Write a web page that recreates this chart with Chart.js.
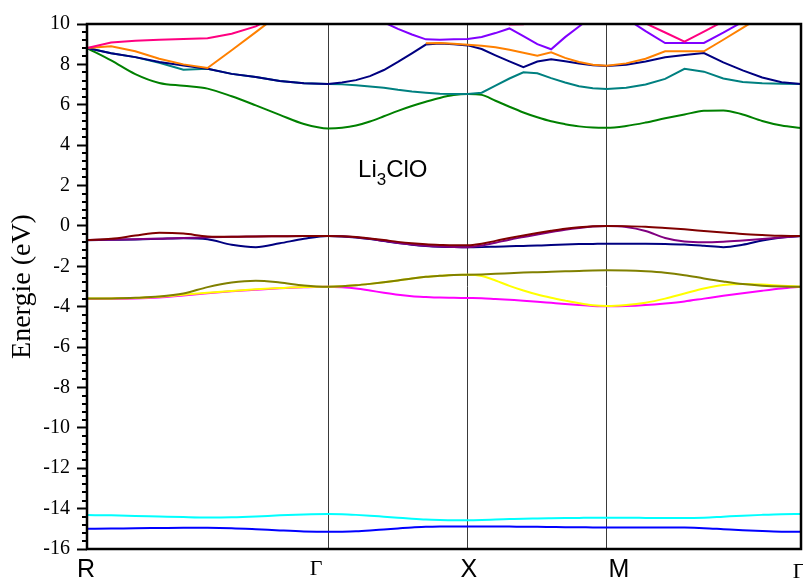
<!DOCTYPE html>
<html>
<head>
<meta charset="utf-8">
<script src="https://cdn.jsdelivr.net/npm/chart.js@4"></script>
<style>
  html, body { margin: 0; padding: 0; background: #fff; }
</style>
</head>
<body>
<canvas id="bands" width="803" height="582"></canvas>
<script>
// k-path R - Γ - X - M - Γ, 10 steps per segment
const kPath = [
  0, 0.173, 0.346, 0.518, 0.691, 0.864, 1.037, 1.210, 1.382, 1.555, 1.728,
  1.828, 1.928, 2.028, 2.128, 2.229, 2.329, 2.429, 2.529, 2.629, 2.729,
  2.829, 2.928, 3.028, 3.128, 3.228, 3.327, 3.427, 3.527, 3.626, 3.726,
  3.865, 4.004, 4.144, 4.283, 4.422, 4.561, 4.700, 4.840, 4.979, 5.118
];
const symK = [0, 1.728, 2.729, 3.726, 5.118];
const symLabels = ['R', 'Γ', 'X', 'M', 'Γ'];
const eMin = -16, eMax = 10, eStep = 2;

// band energies (eV), null where the band is above the window
const band1 = [-15.00, -14.99, -14.97, -14.96, -14.95, -14.95, -14.97, -15.02, -15.08, -15.13, -15.15,
  -15.14, -15.12, -15.08, -15.03, -14.98, -14.93, -14.90, -14.88, -14.88, -14.88,
  -14.88, -14.89, -14.89, -14.90, -14.90, -14.91, -14.92, -14.92, -14.93, -14.93,
  -14.93, -14.93, -14.93, -14.94, -14.97, -15.02, -15.07, -15.11, -15.14, -15.15];
const band2 = [-14.32, -14.33, -14.36, -14.39, -14.42, -14.44, -14.43, -14.39, -14.33, -14.29, -14.27,
  -14.28, -14.31, -14.35, -14.40, -14.45, -14.50, -14.54, -14.56, -14.57, -14.57,
  -14.56, -14.54, -14.52, -14.50, -14.49, -14.48, -14.47, -14.46, -14.45, -14.45,
  -14.45, -14.46, -14.47, -14.47, -14.45, -14.40, -14.35, -14.31, -14.28, -14.27];
const band3 = [-3.62, -3.61, -3.59, -3.54, -3.44, -3.33, -3.24, -3.16, -3.09, -3.04, -3.01,
  -3.04, -3.10, -3.20, -3.31, -3.41, -3.48, -3.52, -3.55, -3.56, -3.57,
  -3.58, -3.62, -3.66, -3.70, -3.75, -3.81, -3.87, -3.92, -3.96, -3.98,
  -3.97, -3.92, -3.84, -3.74, -3.60, -3.46, -3.33, -3.21, -3.10, -3.01];
const band4 = [-3.60, -3.59, -3.57, -3.51, -3.41, -3.31, -3.22, -3.14, -3.08, -3.03, -3.01,
  -2.99, -2.94, -2.87, -2.79, -2.70, -2.60, -2.52, -2.47, -2.43, -2.42,
  -2.48, -2.70, -2.97, -3.20, -3.40, -3.56, -3.70, -3.83, -3.93, -3.97,
  -3.92, -3.80, -3.60, -3.35, -3.10, -2.92, -2.87, -2.90, -2.96, -3.01];
const band5 = [-3.60, -3.59, -3.56, -3.50, -3.35, -3.03, -2.80, -2.71, -2.80, -2.95, -3.01,
  -2.99, -2.94, -2.87, -2.79, -2.70, -2.60, -2.52, -2.47, -2.43, -2.42,
  -2.40, -2.37, -2.34, -2.31, -2.29, -2.27, -2.25, -2.23, -2.21, -2.20,
  -2.21, -2.25, -2.32, -2.44, -2.60, -2.75, -2.88, -2.96, -3.00, -3.01];
const band6 = [-0.71, -0.69, -0.67, -0.64, -0.61, -0.66, -0.93, -1.05, -0.86, -0.64, -0.50,
  -0.52, -0.57, -0.65, -0.75, -0.85, -0.93, -0.99, -1.03, -1.05, -1.06,
  -1.05, -1.03, -1.01, -0.99, -0.97, -0.95, -0.92, -0.90, -0.89, -0.88,
  -0.88, -0.88, -0.89, -0.92, -0.98, -1.05, -0.93, -0.72, -0.57, -0.50];
const band7 = [-0.70, -0.68, -0.66, -0.63, -0.60, -0.56, -0.54, -0.52, -0.51, -0.50, -0.50,
  -0.51, -0.56, -0.64, -0.74, -0.84, -0.92, -0.98, -1.02, -1.04, -1.05,
  -0.97, -0.83, -0.68, -0.55, -0.42, -0.30, -0.19, -0.10, -0.03, 0.00,
  -0.05, -0.25, -0.60, -0.77, -0.81, -0.78, -0.72, -0.65, -0.57, -0.50];
const band8 = [-0.70, -0.64, -0.48, -0.34, -0.38, -0.52, -0.54, -0.52, -0.51, -0.50, -0.50,
  -0.51, -0.55, -0.62, -0.70, -0.79, -0.86, -0.91, -0.94, -0.96, -0.96,
  -0.88, -0.74, -0.60, -0.47, -0.35, -0.24, -0.14, -0.07, -0.02, 0.00,
  -0.01, -0.04, -0.10, -0.17, -0.25, -0.33, -0.40, -0.45, -0.49, -0.50];
const band9 = [8.81, 8.20, 7.52, 7.08, 6.94, 6.80, 6.42, 5.97, 5.50, 5.05, 4.83,
  4.86, 4.97, 5.17, 5.43, 5.70, 5.94, 6.15, 6.34, 6.48, 6.53,
  6.49, 6.20, 5.90, 5.62, 5.38, 5.18, 5.04, 4.93, 4.87, 4.86,
  4.95, 5.12, 5.33, 5.52, 5.70, 5.72, 5.52, 5.20, 4.97, 4.85];
const band10 = [8.81, 8.55, 8.36, 8.08, 7.74, 7.78, 7.53, 7.37, 7.18, 7.07, 7.03,
  7.01, 6.97, 6.91, 6.84, 6.74, 6.66, 6.60, 6.55, 6.53, 6.53,
  6.60, 6.95, 7.30, 7.61, 7.56, 7.32, 7.10, 6.92, 6.82, 6.78,
  6.84, 7.00, 7.28, 7.78, 7.64, 7.30, 7.13, 7.06, 7.04, 7.03];
const band11 = [8.81, 8.55, 8.36, 8.12, 7.95, 7.78, 7.53, 7.37, 7.18, 7.07, 7.03,
  7.10, 7.22, 7.42, 7.72, 8.12, 8.55, 8.98, 9.04, 9.00, 8.94,
  8.76, 8.45, 8.15, 7.86, 8.14, 8.25, 8.15, 8.04, 7.96, 7.92,
  7.98, 8.14, 8.35, 8.46, 8.56, 8.10, 7.70, 7.35, 7.12, 7.03];
const band12 = [8.81, 8.90, 8.65, 8.28, 8.00, 7.82, 8.70, 9.60, 10.50, null, null,
  null, null, null, null, null, null, 9.05, 9.06, 9.02, 8.97,
  8.92, 8.85, 8.72, 8.58, 8.43, 8.60, 8.32, 8.12, 7.98, 7.93,
  8.05, 8.28, 8.65, 8.65, 8.65, 9.22, 9.81, 10.40, null, null];
const band13 = [null, null, null, null, null, null, null, null, null, null, null,
  null, null, null, 10.08, 9.76, 9.48, 9.24, 9.22, 9.24, 9.26,
  9.36, 9.55, 9.78, 9.40, 9.00, 8.75, 9.35, 9.88, 10.40, null,
  10.27, 9.65, 9.06, 9.06, 9.06, 9.57, 10.11, null, null, null];
const band14 = [8.81, 9.08, 9.17, 9.22, 9.26, 9.30, 9.52, 9.88, 10.50, null, null,
  null, null, null, null, null, null, null, null, null, null,
  null, 10.40, 9.98, 9.99, 10.40, null, null, null, null, null,
  10.50, 10.03, 9.58, 9.13, 9.62, 10.13, null, null, null, null];

const bands = [band1, band2, band3, band4, band5, band6, band7, band8, band9, band10, band11, band12, band13, band14];
const bandColors = ['#0000ff', '#00ffff', '#ff00ff', '#ffff00', '#808000', '#000080', '#800080',
  '#800000', '#008000', '#008080', '#000080', '#ff8000', '#8000ff', '#ff0080'];
// upper bands are plotted as straight segments, the rest smoothed
const smoothBand = [true, true, true, true, true, true, true, true, true, false, false, false, false, false];

const datasets = bands.map((vals, i) => ({
  label: 'band ' + (i + 1),
  data: kPath.map((k, j) => ({ x: k, y: vals[j] })),
  borderColor: bandColors[i],
  borderWidth: 2,
  pointRadius: 0,
  cubicInterpolationMode: smoothBand[i] ? 'monotone' : 'default',
  tension: 0,
  order: bands.length - i
}));

const serif = '"Liberation Serif", "Times New Roman", serif';
const sans = '"Liberation Sans", Arial, sans-serif';

const decor = {
  id: 'decor',
  afterDraw(chart) {
    const { ctx, chartArea: a, scales } = chart;
    ctx.save();
    // minor ticks on the energy axis
    ctx.strokeStyle = '#000';
    ctx.lineWidth = 2;
    const nMinor = Math.round((eMax - eMin) / 0.4);
    for (let i = 0; i <= nMinor; i++) {
      if (i % 5 === 0) continue;
      const y = Math.round(scales.y.getPixelForValue(eMin + i * 0.4));
      ctx.beginPath();
      ctx.moveTo(a.left - 5, y);
      ctx.lineTo(a.left, y);
      ctx.stroke();
    }
    // frame
    ctx.lineWidth = 2.5;
    ctx.strokeRect(a.left, a.top, a.right - a.left, a.bottom - a.top);

    // high-symmetry point labels
    const dx = [-1, -12, 1, 12, -2];
    const dy = [28, 26, 28, 28, 29];
    ctx.fillStyle = '#000';
    ctx.textAlign = 'center';
    ctx.textBaseline = 'alphabetic';
    symK.forEach((k, i) => {
      ctx.font = (symLabels[i] === 'Γ' ? '22px ' + serif : '25px ' + sans);
      ctx.fillText(symLabels[i], scales.x.getPixelForValue(k) + dx[i], a.bottom + dy[i]);
    });

    // compound name
    let x = scales.x.getPixelForValue(1.943);
    const y = scales.y.getPixelForValue(2.42);
    ctx.textAlign = 'left';
    ctx.font = '24px ' + sans;
    ctx.fillText('Li', x, y);
    x += ctx.measureText('Li').width;
    ctx.font = '17px ' + sans;
    ctx.fillText('3', x, y + 8);
    x += ctx.measureText('3').width;
    ctx.font = '24px ' + sans;
    ctx.fillText('ClO', x, y);
    ctx.restore();
  }
};

new Chart(document.getElementById('bands'), {
  type: 'line',
  data: { datasets },
  options: {
    responsive: false,
    animation: false,
    layout: { padding: { top: 24, right: 2, left: 0, bottom: 0 } },
    plugins: { legend: { display: false }, tooltip: { enabled: false } },
    scales: {
      x: {
        type: 'linear',
        min: symK[0],
        max: symK[symK.length - 1],
        afterBuildTicks: (scale) => { scale.ticks = symK.map(v => ({ value: v })); },
        afterFit: (scale) => { scale.height = 33; },
        ticks: { display: false },
        border: { display: false },
        grid: {
          drawTicks: false,
          lineWidth: 1,
          color: (c) => (c.index === 0 || c.index === symK.length - 1) ? 'rgba(0,0,0,0)' : '#3a3a3a'
        }
      },
      y: {
        min: eMin,
        max: eMax,
        afterFit: (scale) => { scale.width = 87; },
        ticks: { stepSize: eStep, color: '#000', padding: 7, font: { family: serif, size: 20 } },
        border: { display: false },
        grid: { drawOnChartArea: false, tickLength: 10, tickWidth: 2, tickColor: '#000' },
        title: {
          display: true,
          text: 'Energie (eV)',
          color: '#000',
          font: { family: serif, size: 28, weight: 'normal' },
          padding: { top: 6, bottom: 0 }
        }
      }
    }
  },
  plugins: [decor]
});
</script>
</body>
</html>
